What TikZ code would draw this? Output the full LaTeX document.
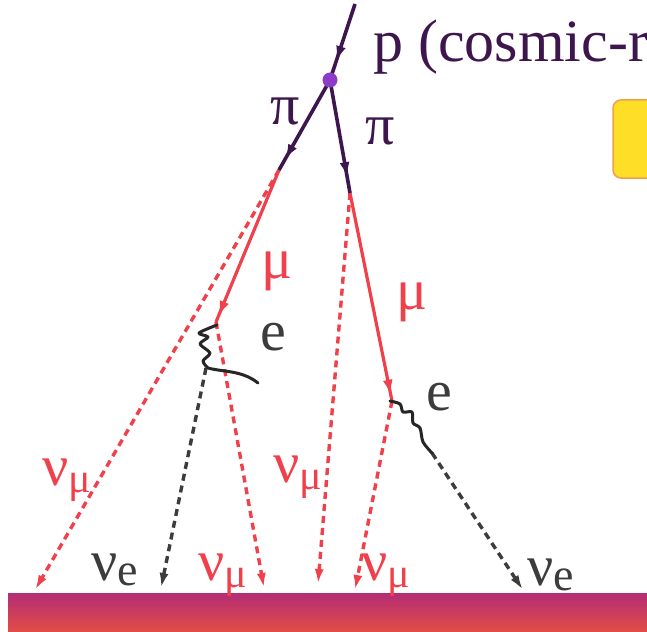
\documentclass[tikz,border=0pt]{standalone}
\usepackage{fontspec}
\setmainfont{Liberation Serif}
\usetikzlibrary{arrows.meta,decorations.markings}
\definecolor{pionc}{RGB}{62,22,78}
\definecolor{redc}{RGB}{240,64,76}
\definecolor{grayc}{RGB}{60,60,60}
\definecolor{dotc}{RGB}{140,60,200}
\definecolor{bandtop}{RGB}{180,44,118}
\definecolor{bandbot}{RGB}{236,84,58}
\definecolor{boxfill}{RGB}{255,222,40}
\definecolor{boxedge}{RGB}{240,160,70}
\newcommand\bigfont{\fontsize{58}{62}\selectfont}
\newcommand\numu{ν\raisebox{-7pt}{\fontsize{42}{42}\selectfont μ}}
\newcommand\nue{ν\raisebox{-5pt}{\fontsize{46}{46}\selectfont e}}
\tikzset{
  pionline/.style={draw=pionc,line width=3.6pt},
  muline/.style={draw=redc,line width=3.2pt},
  nuline/.style={draw=redc,line width=3.4pt,dash pattern=on 7pt off 5pt,-{Latex[length=15pt,width=9pt]}},
  nueline/.style={draw=grayc,line width=3.4pt,dash pattern=on 7pt off 5pt,-{Latex[length=15pt,width=9pt]}},
  eline/.style={draw=black!85,line width=3pt,line cap=round,line join=round},
  midarrow/.style={postaction={decorate},decoration={markings,mark=at position #1 with {\arrow{Latex[length=15pt,width=10pt]}}}},
  lbl/.style={inner sep=0pt,font=\bigfont},
  lblr/.style={lbl,text=redc},
  lblp/.style={lbl,text=pionc},
  lblg/.style={lbl,text=grayc}
}
\begin{document}
\begin{tikzpicture}[x=1pt,y=-1pt]
\useasboundingbox (0,0) rectangle (647,631);
\clip (0,0) rectangle (647,631);
\fill[white] (0,0) rectangle (647,631);
% ground band
\shade[top color=bandtop,bottom color=bandbot] (8,593) rectangle (660,640);
% yellow box at right edge
\draw[fill=boxfill,draw=boxedge,line width=1.5pt,rounded corners=8pt] (613,100) rectangle (680,178);
% coordinates
\coordinate (P0) at (355,4);
\coordinate (V) at (330,80);
\coordinate (PiL) at (279,170);
\coordinate (PiR) at (350,193);
\coordinate (MuL) at (216,322);
\coordinate (MuR) at (392,401);
\coordinate (EL) at (206,368);
\coordinate (ER) at (432,453);
\coordinate (G1) at (35,590);
\coordinate (G2) at (161,588);
\coordinate (G3) at (264,588);
\coordinate (G4) at (318,584);
\coordinate (G5) at (355,590);
\coordinate (G6) at (523,590);
% red dashed neutrinos
\draw[nuline] (PiL) -- (G1);
\draw[nuline] (MuL) -- (G3);
\draw[nuline] (PiR) -- (G4);
\draw[nuline] (MuR) -- (G5);
% black dashed electron neutrinos
\draw[nueline] (EL) -- (G2);
\draw[nueline] (ER) -- (G6);
% muons
\draw[muline,midarrow=0.96] (PiL) -- (MuL);
\draw[muline,midarrow=0.97] (PiR) -- (MuR);
% pions and proton
\draw[pionline,midarrow=0.75] (P0) -- (V);
\draw[pionline,midarrow=0.88] (V) -- (PiL);
\draw[pionline,midarrow=0.86] (V) -- (PiR);
\fill[dotc] (V) circle (7.5pt);
% electrons
\draw[eline] plot[smooth,tension=0.5] coordinates {(217,325) (199,333) (208,337) (200,344) (210,353) (203,361) (208,368)}
  .. controls (222,372) and (242,370) .. (258,383);
\draw[eline] plot[smooth,tension=0.5] coordinates {(390,401) (400,404) (403,412) (412,412) (413,423) (420,428) (423,442) (432,453)};
% labels
\node[lblp,anchor=base west,font=\fontsize{60}{64}\selectfont] (ptext) at (373,62) {p (cosmic-ray)};
\node[lblp] (piL) at (285,111) {π};
\node[lblp] (piR) at (380,131) {π};
\node[lblr] (muL) at (277,271) {μ};
\node[lblr] (muR) at (412,302) {μ};
\node[lblg] (eL) at (273,337) {e};
\node[lblg] (eR) at (439,397) {e};
\node[lblr,anchor=base west] (n1) at (42,485) {\numu};
\node[lblr,anchor=base west] (n2) at (273,482) {\numu};
\node[lblg,anchor=base west] (n3) at (91,580) {\nue};
\node[lblr,anchor=base west] (n4) at (198,580) {\numu};
\node[lblr,anchor=base west] (n5) at (361,580) {\numu};
\node[lblg,anchor=base west] (n6) at (527,585) {\nue};
\end{tikzpicture}
\end{document}
